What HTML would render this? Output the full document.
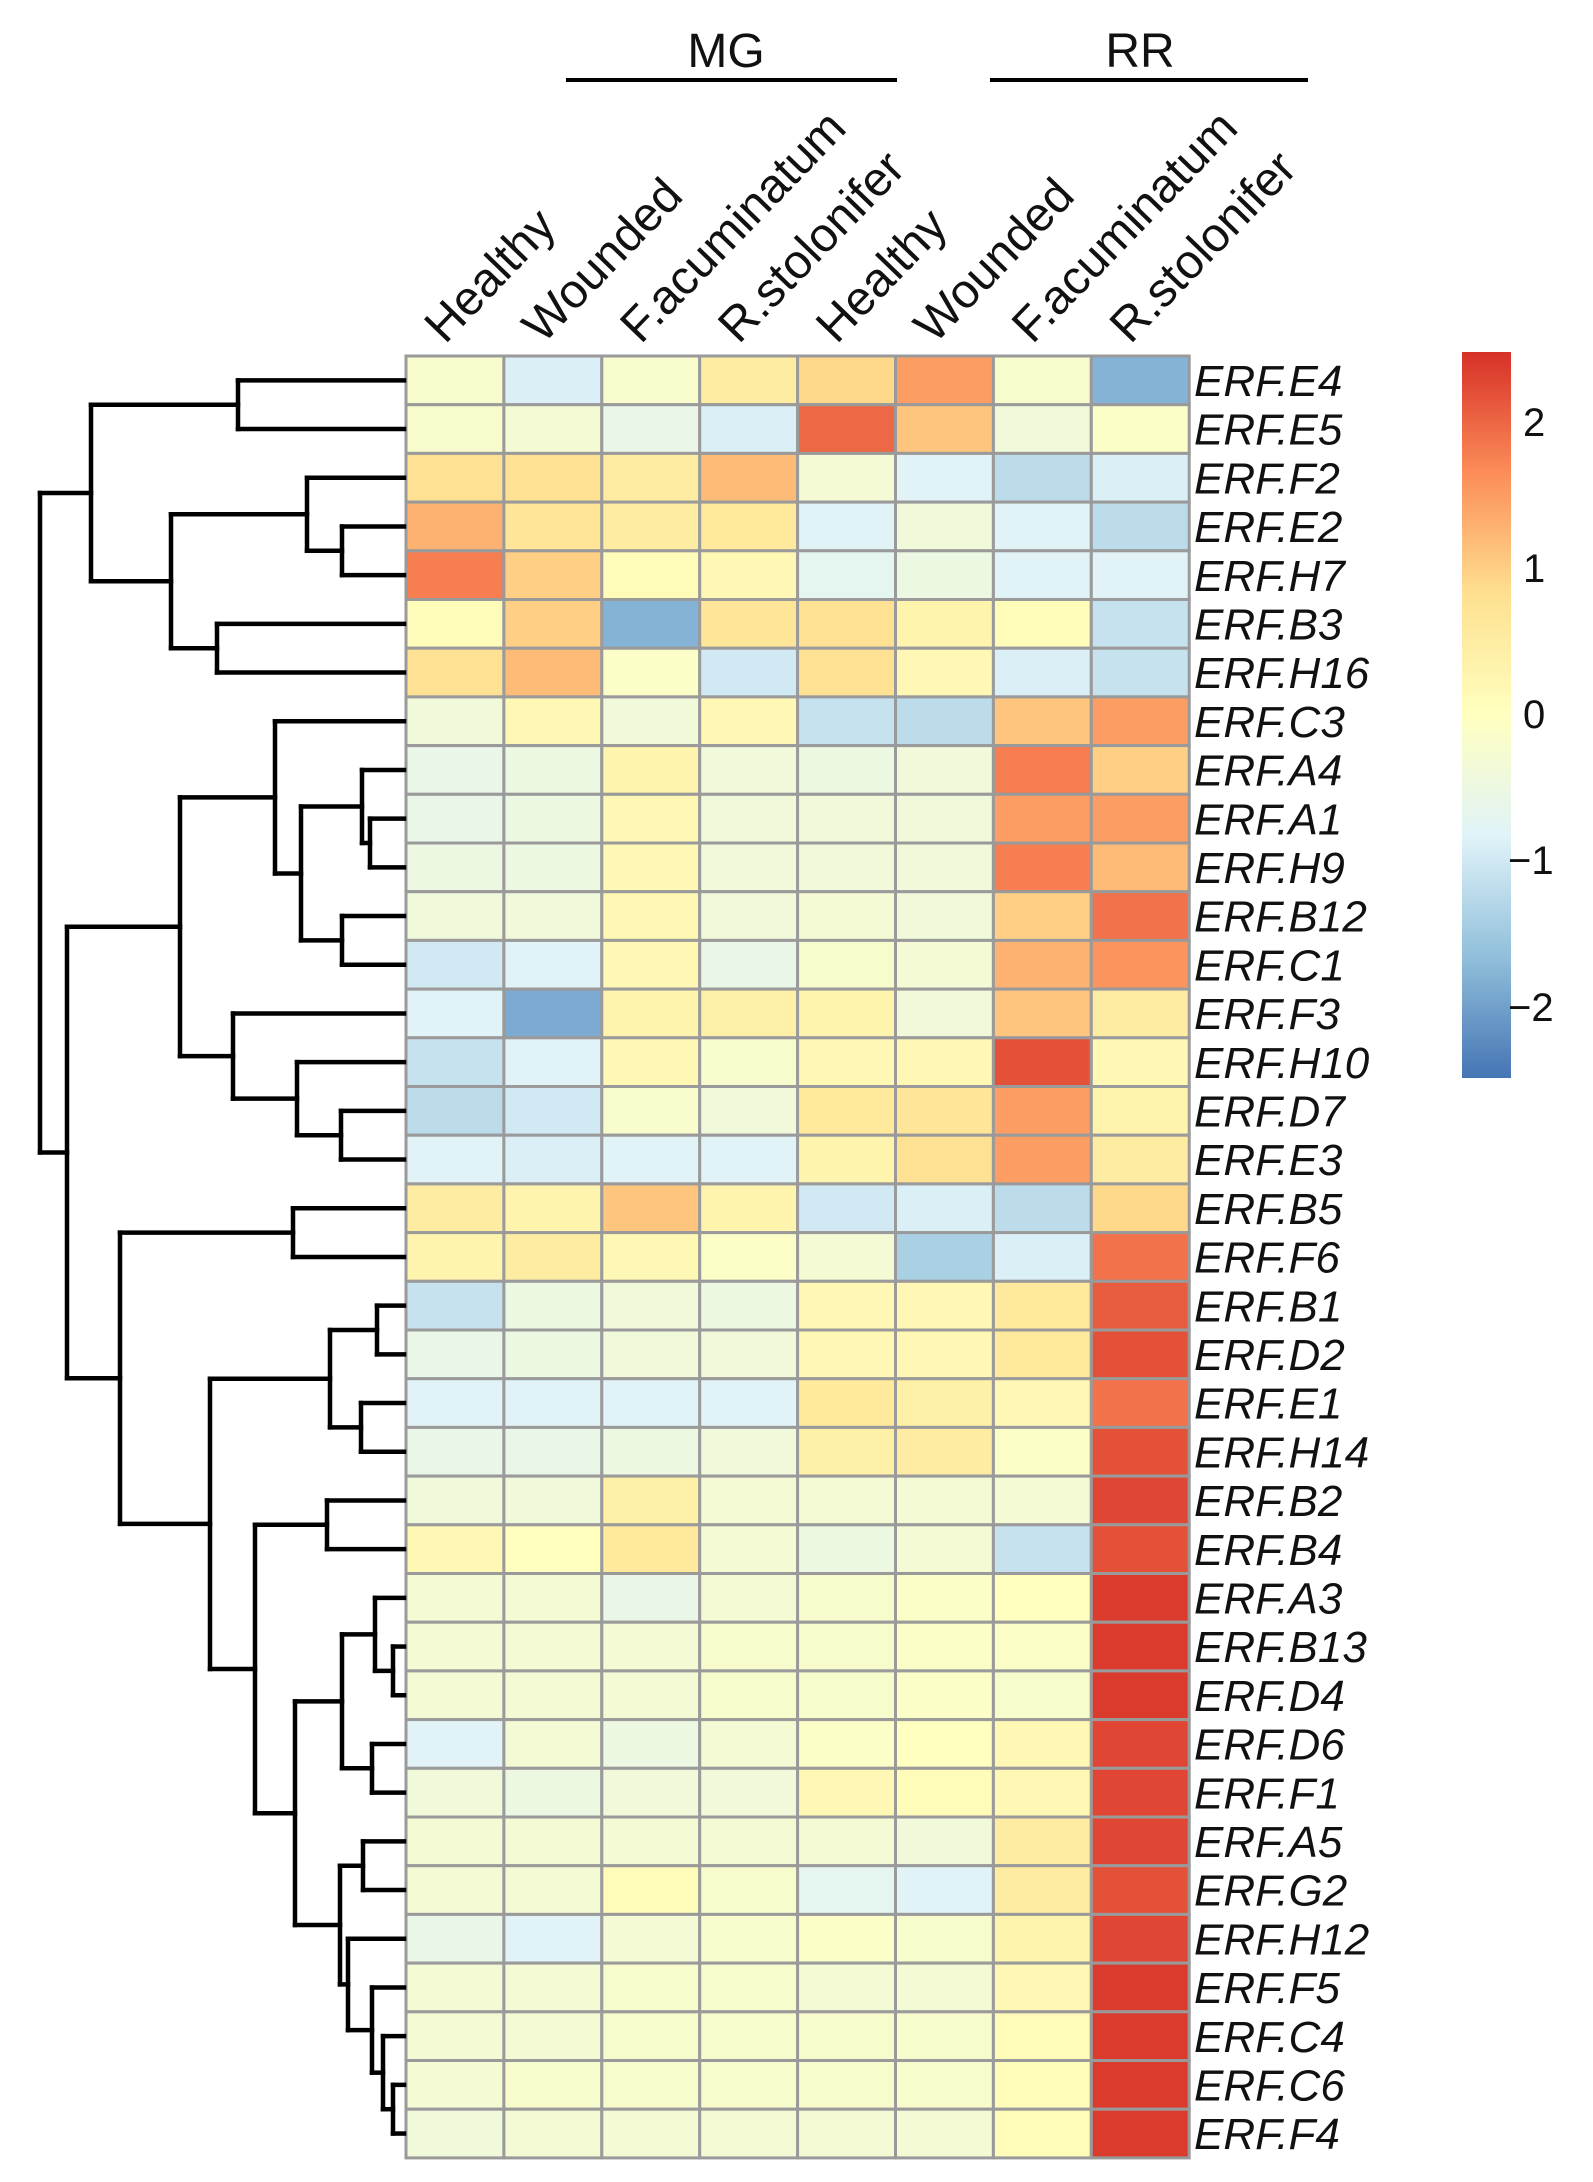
<!DOCTYPE html>
<html><head><meta charset="utf-8">
<style>
html,body{margin:0;padding:0;background:#fff;}
svg{display:block;}
text{font-family:"Liberation Sans",Arial,sans-serif;fill:#111;}
</style></head>
<body>
<svg id="s" width="1593" height="2182" viewBox="0 0 1593 2182" xmlns="http://www.w3.org/2000/svg">
<defs>
<linearGradient id="cb" x1="0" y1="1" x2="0" y2="0">
<stop offset="0" stop-color="#4575b4"/>
<stop offset="0.1667" stop-color="#91bfdb"/>
<stop offset="0.3333" stop-color="#e0f3f8"/>
<stop offset="0.5" stop-color="#ffffbf"/>
<stop offset="0.6667" stop-color="#fee090"/>
<stop offset="0.8333" stop-color="#fc8d59"/>
<stop offset="1" stop-color="#d73027"/>
</linearGradient>
</defs>
<g id="hm"></g>
<g id="dg" stroke="#000" stroke-width="4.5" fill="none" stroke-linecap="square"></g>
<g id="lab"></g>
<text x="726" y="67" font-size="48" text-anchor="middle">MG</text>
<line x1="566" y1="80" x2="897" y2="80" stroke="#000" stroke-width="4"/>
<text x="1140" y="67" font-size="48" text-anchor="middle">RR</text>
<line x1="990" y1="80" x2="1308" y2="80" stroke="#000" stroke-width="4"/>
<rect x="1462" y="352" width="49" height="726" fill="url(#cb)"/>
<text x="1523" y="436" font-size="40">2</text>
<text x="1523" y="582" font-size="40">1</text>
<text x="1523" y="728" font-size="40">0</text>
<text x="1508" y="874" font-size="40">−1</text>
<text x="1508" y="1021" font-size="40">−2</text>
</svg>
<script>
var names=["E4","E5","F2","E2","H7","B3","H16","C3","A4","A1","H9","B12","C1","F3","H10","D7","E3","B5","F6","B1","D2","E1","H14","B2","B4","A3","B13","D4","D6","F1","A5","G2","H12","F5","C4","C6","F4"];
var V=[
[-0.2,-0.9,-0.2,0.5,0.9,1.5,-0.2,-1.8],
[-0.2,-0.3,-0.6,-0.9,2.0,1.1,-0.4,-0.1],
[0.8,0.8,0.5,1.2,-0.3,-0.8,-1.2,-0.9],
[1.3,0.7,0.5,0.6,-0.8,-0.4,-0.8,-1.2],
[1.8,1.0,0.1,0.2,-0.7,-0.5,-0.8,-0.8],
[0.1,1.0,-1.8,0.7,0.8,0.3,0.1,-1.1],
[0.8,1.2,-0.1,-1.0,0.8,0.2,-0.9,-1.1],
[-0.4,0.2,-0.4,0.2,-1.1,-1.2,1.1,1.5],
[-0.6,-0.5,0.3,-0.4,-0.5,-0.4,1.8,1.0],
[-0.6,-0.5,0.2,-0.4,-0.4,-0.4,1.5,1.5],
[-0.5,-0.5,0.2,-0.4,-0.4,-0.4,1.8,1.2],
[-0.4,-0.4,0.2,-0.4,-0.3,-0.4,1.0,1.9],
[-1.0,-0.8,0.2,-0.6,-0.2,-0.3,1.3,1.6],
[-0.8,-1.9,0.3,0.4,0.3,-0.4,1.1,0.5],
[-1.1,-0.8,0.2,-0.2,0.2,0.2,2.2,0.2],
[-1.2,-1.0,-0.2,-0.4,0.6,0.7,1.5,0.3],
[-0.8,-0.9,-0.8,-0.8,0.3,0.8,1.5,0.5],
[0.5,0.3,1.1,0.3,-1.0,-0.9,-1.2,0.9],
[0.3,0.5,0.2,-0.1,-0.3,-1.4,-0.9,1.9],
[-1.1,-0.5,-0.4,-0.5,0.2,0.2,0.6,2.1],
[-0.6,-0.5,-0.4,-0.4,0.2,0.2,0.6,2.2],
[-0.8,-0.8,-0.8,-0.8,0.6,0.4,0.2,1.9],
[-0.6,-0.6,-0.5,-0.4,0.4,0.5,-0.1,2.2],
[-0.4,-0.4,0.4,-0.3,-0.3,-0.3,-0.3,2.3],
[0.2,0.0,0.6,-0.3,-0.5,-0.3,-1.1,2.2],
[-0.3,-0.3,-0.6,-0.3,-0.2,-0.1,0.0,2.4],
[-0.3,-0.3,-0.3,-0.2,-0.2,-0.1,-0.1,2.4],
[-0.3,-0.3,-0.3,-0.2,-0.2,-0.1,-0.2,2.4],
[-0.8,-0.3,-0.5,-0.3,-0.1,0.0,0.2,2.3],
[-0.4,-0.5,-0.4,-0.4,0.2,0.1,0.2,2.3],
[-0.3,-0.3,-0.3,-0.3,-0.3,-0.4,0.5,2.3],
[-0.3,-0.3,0.1,-0.2,-0.7,-0.8,0.5,2.2],
[-0.6,-0.8,-0.3,-0.2,-0.1,-0.2,0.3,2.3],
[-0.3,-0.3,-0.2,-0.2,-0.3,-0.3,0.2,2.4],
[-0.3,-0.3,-0.2,-0.2,-0.2,-0.2,0.1,2.4],
[-0.3,-0.2,-0.2,-0.2,-0.2,-0.2,0.1,2.4],
[-0.4,-0.3,-0.3,-0.3,-0.3,-0.3,0.1,2.4]];
var stops=[[69,117,180],[145,191,219],[224,243,248],[255,255,191],[254,224,144],[252,141,89],[215,48,39]];
function col(v){var t=(v+2.5)/5*6;if(t<0)t=0;if(t>5.999)t=5.999;var i=Math.floor(t),f=t-i;var a=stops[i],b=stops[i+1];
return "rgb("+[0,1,2].map(function(k){return Math.round(a[k]+(b[k]-a[k])*f)}).join(",")+")";}
var X0=406,Y0=356,CW=97.9,RH=48.7;
var h="";
for(var i=0;i<37;i++)for(var j=0;j<8;j++){
h+='<rect x="'+(X0+j*CW)+'" y="'+(Y0+i*RH)+'" width="'+CW+'" height="'+RH+'" fill="'+col(V[i][j])+'" stroke="#9a9a9a" stroke-width="3"/>';}
document.getElementById("hm").innerHTML=h;
var l="";
for(var i=0;i<37;i++){l+='<text x="1194" y="'+(Y0+i*RH+40)+'" font-size="44" font-style="italic">ERF.'+names[i]+'</text>';}
var cl=["Healthy","Wounded","F.acuminatum","R.stolonifer","Healthy","Wounded","F.acuminatum","R.stolonifer"];
for(var j=0;j<8;j++){var x=X0+(j+0.5)*CW-10;l+='<text x="'+x+'" y="345" font-size="48" transform="rotate(-46 '+x+' 345)">'+cl[j]+'</text>';}
document.getElementById("lab").innerHTML=l;
var P=[342,[375,25,[393,26,27]],[372,28,29]];
var Q=[340,[363,30,31],[348,32,[372,33,[383,34,[393,35,36]]]]];
var T=[91,[238,0,1],[171,[307,2,[342,3,4]],[217,5,6]]];
var B1=[180,[275,7,[301,[362,8,[370,9,10]],[342,11,12]]],[233,13,[297,14,[341,15,16]]]];
var B2=[120,[293,17,18],[210,[330,[377,19,20],[361,21,22]],[255,[327,23,24],[295,P,Q]]]];
var root=[40,T,[67,B1,B2]];
var d="";
function nd(n){ if(typeof n==="number") return {x:404,y:Y0+RH*(n+0.5)};
 var a=nd(n[1]),b=nd(n[2]),x=n[0];
 d+='<line x1="'+x+'" y1="'+a.y+'" x2="'+x+'" y2="'+b.y+'"/>';
 d+='<line x1="'+x+'" y1="'+a.y+'" x2="'+a.x+'" y2="'+a.y+'"/>';
 d+='<line x1="'+x+'" y1="'+b.y+'" x2="'+b.x+'" y2="'+b.y+'"/>';
 return {x:x,y:(a.y+b.y)/2};}
nd(root);
document.getElementById("dg").innerHTML=d;
</script>
</body></html>
